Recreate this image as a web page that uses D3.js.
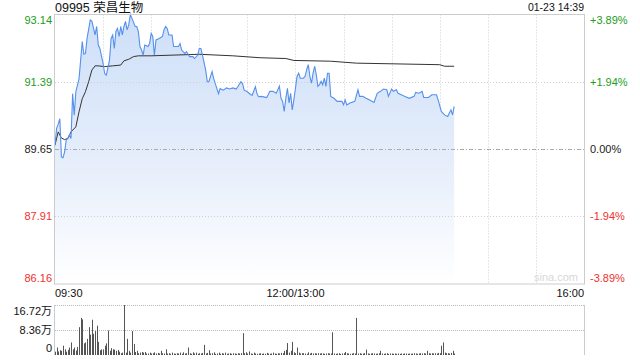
<!DOCTYPE html>
<html>
<head>
<meta charset="utf-8">
<script src="https://cdn.jsdelivr.net/npm/d3@7"></script>
<style>
  html, body { margin: 0; padding: 0; background: #fff; }
  svg { display: block; font-family: Arial, "Liberation Sans", "Noto Sans CJK SC", sans-serif; }
</style>
</head>
<body>
<div id="chart"></div>
<script>
// ---- data ----
const stockTitle = "09995 荣昌生物";
const stampText = "01-23 14:39";
const prevClose = 89.65;
const priceTicks = [93.14, 91.39, 89.65, 87.91, 86.16];
const pctTicks = ["+3.89%", "+1.94%", "0.00%", "-1.94%", "-3.89%"];
const volTicks = [16.72, 8.36, 0];
const volTickLabels = ["16.72万", "8.36万", "0"];
const timeLabels = ["09:30", "12:00/13:00", "16:00"];
const timeLabelMinutes = [0, 150, 330];

// minutes since 09:30 (lunch break removed), price
const priceMinutes = [0, 1, 2, 3, 4, 5, 6, 7, 8, 9, 10, 11, 12, 13, 15, 17, 18, 19, 20, 22, 23, 25, 26, 27, 28, 30, 31, 32, 34, 35, 36, 37, 38, 39, 40, 41, 42, 43, 44, 45, 46, 47, 48, 50, 51, 52, 53, 54, 55, 56, 58, 59, 60, 61, 62, 63, 65, 67, 68, 69, 70, 71, 73, 74, 77, 78, 79, 81, 82, 84, 86, 87, 89, 90, 91, 92, 94, 95, 96, 98, 99, 100, 102, 103, 105, 107, 109, 111, 113, 114, 116, 117, 118, 120, 122, 123, 125, 126, 127, 129, 132, 133, 134, 136, 138, 140, 141, 142, 143, 144, 145, 146, 147, 148, 149, 150, 151, 152, 153, 155, 156, 157, 158, 159, 160, 161, 162, 163, 164, 165, 166, 167, 168, 169, 170, 171, 172, 174, 176, 179, 180, 181, 182, 184, 187, 189, 190, 192, 194, 196, 199, 201, 203, 205, 207, 208, 210, 211, 213, 214, 216, 218, 221, 224, 225, 227, 229, 230, 233, 235, 238, 239, 241, 243, 245, 246, 247, 248, 249];
const prices = [89.75, 90.19, 90.30, 90.44, 89.45, 89.43, 89.58, 89.89, 89.93, 90.02, 89.93, 91.09, 90.53, 91.14, 91.48, 92.44, 92.11, 92.13, 92.52, 93.00, 92.97, 92.61, 92.83, 92.35, 92.26, 91.87, 91.61, 91.57, 91.96, 92.52, 92.61, 92.26, 92.70, 92.78, 92.57, 92.83, 92.61, 92.83, 92.96, 92.74, 92.87, 93.14, 93.04, 92.83, 92.83, 92.70, 92.31, 92.22, 92.09, 92.35, 92.31, 92.39, 92.65, 92.57, 92.09, 92.48, 92.52, 92.57, 92.74, 92.83, 92.78, 92.61, 92.61, 92.31, 92.31, 92.39, 92.22, 92.13, 92.18, 92.05, 92.05, 92.00, 92.09, 92.26, 92.26, 92.09, 91.70, 91.40, 91.40, 91.66, 91.48, 91.35, 91.09, 91.22, 91.18, 91.24, 91.21, 91.24, 91.21, 91.27, 91.40, 91.35, 91.18, 91.14, 91.07, 91.05, 91.27, 91.09, 91.01, 91.02, 90.99, 91.06, 91.15, 91.15, 91.10, 91.28, 90.97, 90.89, 90.63, 90.97, 91.23, 90.85, 91.10, 90.67, 90.93, 91.23, 91.54, 91.62, 91.49, 91.49, 91.54, 91.71, 91.84, 91.54, 91.36, 91.62, 91.80, 91.58, 91.28, 91.32, 91.41, 91.32, 91.49, 91.28, 91.62, 91.62, 91.02, 90.97, 90.89, 90.89, 90.80, 90.93, 90.80, 90.85, 90.89, 91.19, 91.02, 91.02, 90.97, 90.93, 90.86, 91.10, 91.15, 91.21, 91.19, 91.02, 91.21, 91.15, 91.19, 91.10, 91.06, 91.02, 90.97, 91.02, 91.12, 91.10, 91.15, 90.99, 90.99, 91.06, 91.06, 90.93, 90.63, 90.54, 90.50, 90.59, 90.67, 90.54, 90.76];

// average price line
const avgMinutes = [0, 2, 4, 6, 8, 10, 13, 15, 17, 19, 21, 23, 25, 27, 31, 36, 41, 43, 46, 49, 52, 60, 90, 111, 128, 144, 149, 172, 188, 240, 243, 249];
const avgPrices = [89.76, 90.10, 89.94, 89.90, 89.93, 90.10, 90.23, 90.62, 90.96, 91.14, 91.40, 91.70, 91.81, 91.81, 91.79, 91.81, 91.83, 91.94, 91.98, 92.05, 92.07, 92.07, 92.11, 92.07, 92.02, 92.00, 91.95, 91.93, 91.88, 91.84, 91.80, 91.80];

// volume per minute, in 万 shares (index = minute)
const volumes = [1.1, 2.5, 1.2, 1.6, 1.4, 3.1, 1.9, 1.1, 1.7, 2.5, 4.2, 1.9, 2.5, 1.5, 2.7, 9.3, 12.4, 11.9, 3.9, 4.2,
  5.4, 9.3, 6.8, 11.8, 7.1, 8.0, 9.8, 4.4, 1.6, 1.9, 1.9, 3.1, 3.9, 8.2, 1.4, 2.3, 1.9, 1.8, 1.4, 1.7,
  1.1, 0.6, 0.8, 16.72, 0.8, 5.4, 1.4, 0.8, 8.0, 3.7, 1.0, 1.4, 0.6, 0.8, 1.0, 0.8, 1.0, 0.5, 0.5, 0.8,
  0.5, 0.6, 0.9, 0.5, 0.7, 0.5, 1.4, 0.6, 0.5, 1.9, 0.5, 0.6, 0.4, 0.8, 0.5, 0.4, 0.6, 0.5, 0.8, 0.4,
  0.9, 0.5, 0.6, 2.5, 0.6, 0.4, 0.9, 0.5, 0.8, 0.4, 0.6, 0.5, 0.7, 3.4, 0.5, 0.7, 1.6, 0.5, 0.6, 0.9,
  0.4, 0.5, 0.8, 0.4, 0.6, 0.5, 0.8, 0.4, 0.5, 0.6, 0.4, 0.6, 0.5, 0.4, 0.6, 0.5, 0.6, 7.3, 0.6, 0.9,
  0.5, 1.2, 0.5, 0.4, 0.8, 0.5, 0.4, 0.5, 0.6, 0.4, 0.5, 0.4, 0.7, 0.5, 0.4, 0.5, 0.8, 0.5, 0.4, 0.6,
  0.5, 0.7, 0.6, 1.4, 1.7, 4.0, 0.8, 1.4, 4.4, 0.9, 0.6, 2.5, 0.8, 0.5, 0.6, 0.6, 0.5, 0.4, 0.9, 0.5,
  0.7, 0.5, 0.6, 0.5, 0.6, 0.5, 0.6, 0.5, 0.4, 0.5, 0.6, 0.5, 0.5, 7.6, 0.5, 0.4, 0.5, 0.6, 0.4, 0.5,
  0.6, 1.0, 0.6, 0.5, 0.4, 0.5, 0.6, 0.5, 12.4, 0.5, 0.6, 0.4, 0.5, 0.6, 1.8, 0.5, 0.4, 0.5, 0.6, 0.5,
  0.4, 0.5, 0.6, 1.4, 0.5, 0.4, 0.5, 0.6, 0.4, 0.5, 0.5, 0.4, 0.5, 0.4, 0.5, 0.4, 0.5, 0.4, 0.5, 0.5,
  0.4, 0.5, 0.4, 0.5, 0.6, 0.5, 0.4, 0.5, 0.6, 0.5, 0.6, 0.5, 1.4, 0.6, 0.5, 0.6, 0.5, 0.6, 0.5, 0.7,
  0.6, 3.1, 4.2, 0.8, 0.6, 0.6, 0.5, 0.7, 1.4, 0.5];

// ---- layout ----
const width = 640, height = 360;
const left = 55, right = 584;
const priceTop = 14.5, priceBottom = 284;
const volTop = 305, volBottom = 355;
const green = "#229c22", red = "#f0302f", dark = "#222";

const svg = d3.select("#chart").append("svg")
              .attr("width", width)
              .attr("height", height);

const x = d3.scaleLinear().domain([0, 330]).range([left, right]);
const y = d3.scaleLinear().domain([priceTicks[4], priceTicks[0]]).range([priceBottom, priceTop]);
const yv = d3.scaleLinear().domain([0, volTicks[0]]).range([volBottom, volTop]);

function tickColor(v) {
    if (Math.abs(v - prevClose) < 0.005) return dark;
    return v > prevClose ? green : red;
}

// gradient for area
const defs = svg.append("defs");
const grad = defs.append("linearGradient")
                 .attr("id", "areaGrad")
                 .attr("gradientUnits", "userSpaceOnUse")
                 .attr("x1", 0).attr("y1", priceTop)
                 .attr("x2", 0).attr("y2", priceBottom);
grad.append("stop").attr("offset", "0%").attr("stop-color", "#cddff8");
grad.append("stop").attr("offset", "55%").attr("stop-color", "#e6eefb");
grad.append("stop").attr("offset", "100%").attr("stop-color", "#ffffff");

// title and time stamp
svg.append("text")
   .attr("x", left)
   .attr("y", 11.5)
   .style("font-size", "12.5px")
   .style("fill", "#111")
   .text(stockTitle);
svg.append("text")
   .attr("x", right)
   .attr("y", 11)
   .attr("text-anchor", "end")
   .style("font-size", "10.5px")
   .style("fill", "#111")
   .text(stampText);

// grid - vertical every 30 minutes
const gridMinutes = d3.range(30, 330, 30);
svg.append("g")
   .selectAll("line")
   .data(gridMinutes)
   .enter()
   .append("line")
   .attr("x1", d => Math.round(x(d)) + 0.5)
   .attr("x2", d => Math.round(x(d)) + 0.5)
   .attr("y1", priceTop)
   .attr("y2", priceBottom)
   .attr("stroke", "#cfcfcf")
   .attr("stroke-dasharray", "1,2");

// area + lines
const pts = priceMinutes.map((m, i) => [m, prices[i]]);
const area = d3.area()
               .x(d => x(d[0]))
               .y0(priceBottom)
               .y1(d => y(d[1]));
svg.append("path")
   .datum(pts)
   .attr("d", area)
   .attr("fill", "url(#areaGrad)");

// horizontal grid
svg.append("g")
   .selectAll("line")
   .data(priceTicks.slice(1, 4))
   .enter()
   .append("line")
   .attr("x1", left)
   .attr("x2", right)
   .attr("y1", d => Math.round(y(d)) + 0.5)
   .attr("y2", d => Math.round(y(d)) + 0.5)
   .attr("stroke", d => Math.abs(d - prevClose) < 0.005 ? "#aaa" : "#cfcfcf")
   .attr("stroke-dasharray", d => Math.abs(d - prevClose) < 0.005 ? "4,2,1,2" : "1,2");

const line = d3.line()
               .x(d => x(d[0]))
               .y(d => y(d[1]));
svg.append("path")
   .datum(avgMinutes.map((m, i) => [m, avgPrices[i]]))
   .attr("d", line)
   .attr("fill", "none")
   .attr("stroke", "#333")
   .attr("stroke-width", 1);
svg.append("path")
   .datum(pts)
   .attr("d", line)
   .attr("fill", "none")
   .attr("stroke", "#5590ec")
   .attr("stroke-width", 1.1);

// frame
svg.append("rect")
   .attr("x", left - 0.5)
   .attr("y", priceTop)
   .attr("width", right - left + 1)
   .attr("height", priceBottom - priceTop)
   .attr("fill", "none")
   .attr("stroke", "#cccccc");

// watermark
svg.append("text")
   .attr("x", 578)
   .attr("y", 281)
   .attr("text-anchor", "end")
   .style("font-size", "11px")
   .style("fill", "#d8d8d8")
   .text("sina.com");

// price labels left, pct labels right
const lastIdx = priceTicks.length - 1;
function labelY(i) {
    const base = y(priceTicks[i]);
    if (i === 0) return base + 9.5;
    if (i === lastIdx) return base - 2;
    return base + 4;
}
svg.append("g")
   .selectAll("text")
   .data(priceTicks)
   .enter()
   .append("text")
   .attr("x", left - 3)
   .attr("y", (d, i) => labelY(i))
   .attr("text-anchor", "end")
   .style("font-size", "11px")
   .style("fill", d => tickColor(d))
   .text(d => d.toFixed(2));
svg.append("g")
   .selectAll("text")
   .data(pctTicks)
   .enter()
   .append("text")
   .attr("x", right + 6)
   .attr("y", (d, i) => labelY(i))
   .style("font-size", "11px")
   .style("fill", (d, i) => tickColor(priceTicks[i]))
   .text(d => d);

// time labels
svg.append("g")
   .selectAll("text")
   .data(timeLabels)
   .enter()
   .append("text")
   .attr("x", (d, i) => x(timeLabelMinutes[i]))
   .attr("y", 297)
   .attr("text-anchor", (d, i) => i === 0 ? "start" : (i === timeLabels.length - 1 ? "end" : "middle"))
   .style("font-size", "11px")
   .style("fill", "#111")
   .text(d => d);

// volume panel
svg.append("g")
   .selectAll("line")
   .data(volTicks.slice(0, 2))
   .enter()
   .append("line")
   .attr("x1", left)
   .attr("x2", right)
   .attr("y1", d => Math.round(yv(d)) + 0.5)
   .attr("y2", d => Math.round(yv(d)) + 0.5)
   .attr("stroke", "#bbb")
   .attr("stroke-dasharray", "1,1");
svg.append("line")
   .attr("x1", left - 0.5).attr("x2", left - 0.5)
   .attr("y1", volTop).attr("y2", volBottom)
   .attr("stroke", "#ccc");
svg.append("line")
   .attr("x1", right + 0.5).attr("x2", right + 0.5)
   .attr("y1", volTop).attr("y2", volBottom)
   .attr("stroke", "#ccc");

svg.append("g")
   .selectAll("rect")
   .data(volumes)
   .enter()
   .append("rect")
   .attr("x", (d, i) => Math.round(x(i)))
   .attr("y", d => yv(d))
   .attr("width", 1)
   .attr("height", d => volBottom - yv(d))
   .attr("fill", "#555");

svg.append("g")
   .selectAll("text")
   .data(volTickLabels)
   .enter()
   .append("text")
   .attr("x", left - 3)
   .attr("y", (d, i) => i === 0 ? yv(volTicks[i]) + 10 : (i === 2 ? yv(volTicks[i]) - 3 : yv(volTicks[i]) + 4))
   .attr("text-anchor", "end")
   .style("font-size", "11px")
   .style("fill", "#111")
   .text(d => d);
</script>
</body>
</html>
